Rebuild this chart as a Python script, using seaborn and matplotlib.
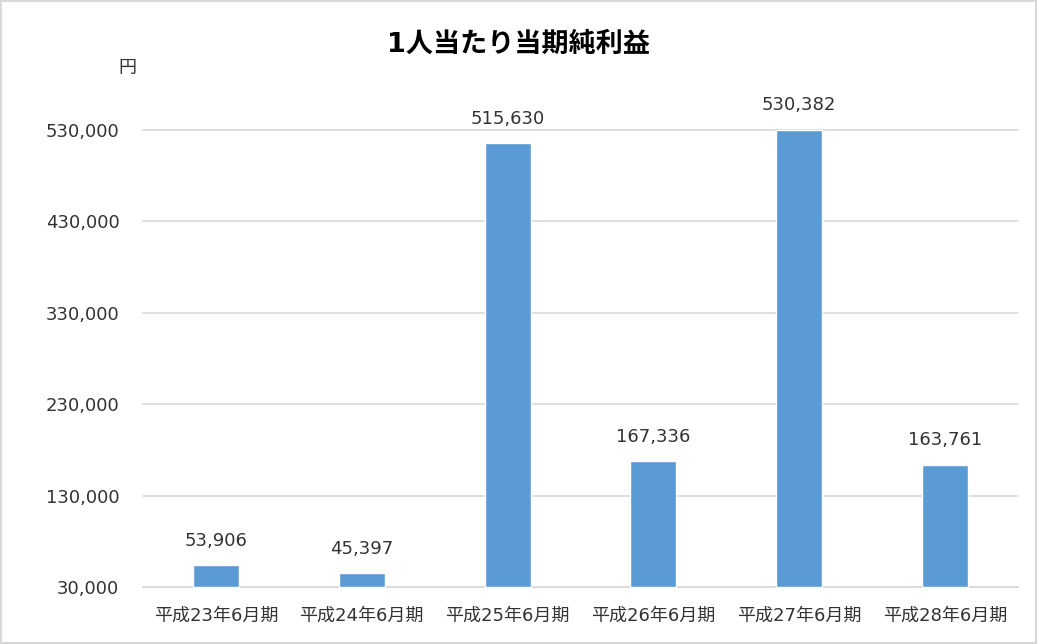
import matplotlib
matplotlib.use('Agg')
import matplotlib.pyplot as plt
import matplotlib.ticker as ticker
import seaborn as sns
import pandas as pd
from matplotlib.patches import Rectangle

# データ
periods = ['平成23年6月期', '平成24年6月期', '平成25年6月期',
           '平成26年6月期', '平成27年6月期', '平成28年6月期']
profit = [53906, 45397, 515630, 167336, 530382, 163761]
y_ticks = [30000, 130000, 230000, 330000, 430000, 530000]

sns.set_style('white')
plt.rcParams['font.family'] = ['DejaVu Sans', 'Noto Sans CJK JP']
TEXT = '#333333'
BAR = '#5B9BD5'
GRID = '#D9D9D9'

df = pd.DataFrame({'period': periods, 'profit': profit})

fig = plt.figure(figsize=(10.38, 6.44), dpi=100)
ax = fig.add_axes([143 / 1038, 1 - 587 / 644, 875 / 1038, 457 / 644])

sns.barplot(data=df, x='period', y='profit', color=BAR, width=0.315,
            saturation=1, ax=ax, zorder=3)

ax.set_ylim(30000, 530000)
ax.set_xlim(-0.5, 5.5)
ax.set_yticks(y_ticks)
ax.yaxis.set_major_formatter(ticker.FuncFormatter(lambda v, p: f'{int(v):,}'))
ax.grid(axis='y', color=GRID, linewidth=1.2, zorder=0)
for gl in ax.get_ygridlines():
    gl.set_clip_on(False)
for s in ['top', 'right', 'left']:
    ax.spines[s].set_visible(False)
ax.spines['bottom'].set_color(GRID)
ax.spines['bottom'].set_linewidth(1.2)
ax.tick_params(axis='both', length=0, labelsize=13, labelcolor=TEXT)
ax.tick_params(axis='y', pad=17)
ax.tick_params(axis='x', pad=14)
ax.set_xlabel('')
ax.set_ylabel('')

# 棒の起点を30,000に合わせる
for bar in ax.patches:
    bar.set_clip_on(False)
    bar.set_y(30000)
    bar.set_height(bar.get_height() - 30000)

for i, v in enumerate(profit):
    ax.annotate(f'{v:,}', (i, v), xytext=(0, 11), textcoords='offset points',
                ha='center', va='bottom', fontsize=13, color=TEXT)

fig.text(519 / 1038, 1 - 45 / 644, '1人当たり当期純利益', ha='center', va='center',
         fontsize=19.5, fontweight='bold', color='black')
fig.text(127 / 1038, 1 - 68 / 644, '円', ha='center', va='center',
         fontsize=13, color=TEXT)

fig.patches.append(Rectangle((0.001, 0.002), 0.997, 0.996, transform=fig.transFigure,
                             fill=False, edgecolor=GRID, linewidth=1.5))

fig.savefig('out.png', dpi=100)
